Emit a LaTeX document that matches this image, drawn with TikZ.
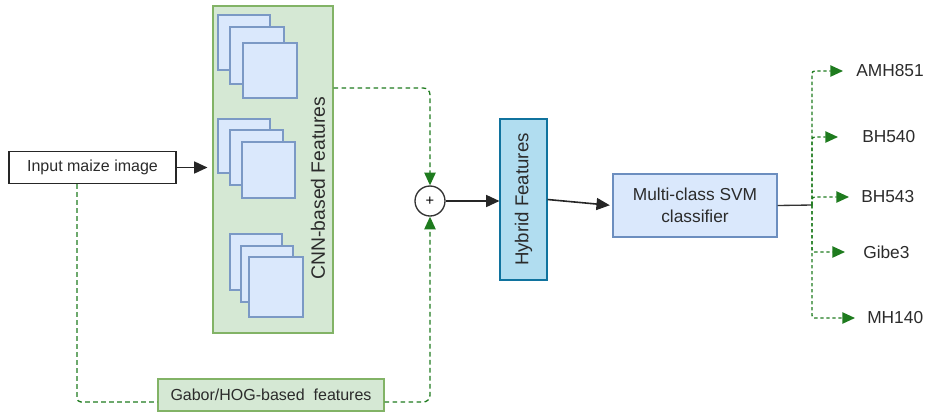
\documentclass[tikz,border=0pt]{standalone}
\usepackage{fontspec}
\setmainfont{Liberation Sans}
\usetikzlibrary{arrows.meta,calc}
\definecolor{gfill}{HTML}{D5E8D4}
\definecolor{gline}{HTML}{82B366}
\definecolor{bfill}{HTML}{DAE8FC}
\definecolor{bline}{HTML}{6C8EBF}
\definecolor{hfill}{HTML}{B1DDF0}
\definecolor{hline}{HTML}{10739E}
\definecolor{dgreen}{HTML}{1E7B1E}
\definecolor{txt}{HTML}{2B2B2B}
\begin{document}
\begin{tikzpicture}[x=0.75pt,y=-0.75pt,
  txtc/.style={text=txt},
  greenbox/.style={draw=gline,fill=gfill,line width=0.8pt,inner sep=0pt,txtc},
  sqbox/.style={draw=bline!90,fill=bfill,line width=0.8pt},
  bluebox/.style={draw=bline,fill=bfill,line width=0.8pt,inner sep=0pt,txtc},
  hybbox/.style={draw=hline,fill=hfill,line width=0.8pt,inner sep=0pt,txtc},
  blackarrow/.style={draw=black!85,line width=1.2pt,-{Triangle[length=10pt,width=9pt]}},
  gdash/.style={draw=dgreen,line width=1pt,dash pattern=on 3.5pt off 2.5pt},
  garrow/.style={gdash,-{Triangle[length=9.5pt,width=8.5pt,fill=dgreen]}},
  gbranch/.style={draw=dgreen,line width=1pt,dash pattern=on 2.5pt off 2pt,-{Triangle[length=9.5pt,width=8.5pt,fill=dgreen]}},
  lbl/.style={anchor=west,inner sep=0pt,txtc,font=\fontsize{13}{15}\selectfont}
]
\useasboundingbox (0,0) rectangle (925,412);

% input
\node[draw=black!85,line width=1.1pt,fill=white,minimum width=125.25pt,minimum height=24pt,inner sep=0pt,txtc,font=\fontsize{12}{14}\selectfont] (input) at (92.5,167.5) {Input maize image};

% CNN box
\node[greenbox,minimum width=90pt,minimum height=245.25pt] (cnn) at (273,169.5) {};
\draw[sqbox] (218,15) rectangle (270,70);
\draw[sqbox] (230,27) rectangle (284,84);
\draw[sqbox] (243,43) rectangle (297,98);
\draw[sqbox] (218,119) rectangle (270,173);
\draw[sqbox] (230,130) rectangle (283,185);
\draw[sqbox] (242,142) rectangle (295,198);
\draw[sqbox] (230,234) rectangle (282,290);
\draw[sqbox] (241,246) rectangle (293,302);
\draw[sqbox] (249,257) rectangle (303,317);
\node[rotate=90,txtc,font=\fontsize{14.5}{16}\selectfont,inner sep=0pt] (cnnlbl) at (318,188) {CNN-based Features};

% plus
\node[circle,draw=black!80,line width=1pt,fill=white,minimum size=22.5pt,inner sep=0pt,font=\fontsize{11}{12}\selectfont] (plus) at (430,201) {+};

% gabor
\node[greenbox,minimum width=169.5pt,minimum height=24pt,font=\fontsize{12}{14}\selectfont] (gabor) at (271,395) {Gabor/HOG-based\ \ features};

% hybrid
\node[hybbox,minimum width=35.25pt,minimum height=120.75pt] (hybrid) at (523.5,199.5) {};
\node[rotate=90,txtc,font=\fontsize{14}{16}\selectfont,inner sep=0pt] (hyblbl) at (hybrid.center) {Hybrid Features};

% svm
\node[bluebox,minimum width=123pt,minimum height=47.25pt,align=center,font=\fontsize{13}{16.5}\selectfont] (svm) at (695,205.5) {Multi-class SVM\\classifier};

% labels
\node[lbl] (l1) at (856,71) {AMH851};
\node[lbl] (l2) at (862,137) {BH540};
\node[lbl] (l3) at (861,197) {BH543};
\node[lbl] (l4) at (863,252) {Gibe3};
\node[lbl] (l5) at (867,318) {MH140};

% coordinates
\coordinate (c1) at (430,88);
\coordinate (c2) at (430,402);
\coordinate (c3) at (77,402);
\coordinate (br) at (812,205);

% connectors
\draw[blackarrow,shorten >=3.75pt] (input.east) -- (input.east -| cnn.west);
\draw[garrow,rounded corners=5pt] (cnn.east |- c1) -- (c1) -- (plus.north);
\draw[garrow,rounded corners=5pt] (gabor.east |- c2) -- (c2) -- (plus.south);
\draw[gdash,rounded corners=3pt] (input.south -| c3) -- (c3) -- (gabor.west |- c3);
\draw[blackarrow] (plus.east) -- (plus.east -| hybrid.west);
\draw[blackarrow,shorten >=2pt] (hybrid.east) -- (svm.west);
\draw[draw=black!80,line width=1pt] (svm.east) -- (br);
\draw[gbranch,rounded corners=2pt,shorten >=9.75pt] (br) |- (l1.west);
\draw[gbranch,rounded corners=2pt,shorten >=18pt] (br) |- (l2.west);
\draw[gbranch,rounded corners=2pt,shorten >=9pt] (br) |- (l3.west);
\draw[gbranch,rounded corners=2pt,shorten >=13.5pt] (br) |- (l4.west);
\draw[gbranch,rounded corners=2pt,shorten >=9pt] (br) |- (l5.west);
\end{tikzpicture}
\end{document}
